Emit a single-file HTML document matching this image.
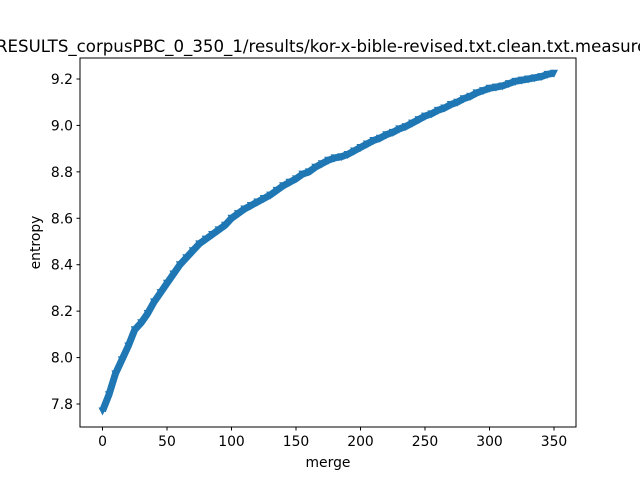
<!DOCTYPE html>
<html><head><meta charset="utf-8"><style>
html,body{margin:0;padding:0;background:#fff;}
svg{display:block;font-family:"DejaVu Sans","Liberation Sans",sans-serif;}
</style></head><body>
<svg id="chart" width="640" height="480" viewBox="0 0 640 480">
<rect width="640" height="480" fill="#fff"/>
<text x="326" y="52" font-size="16.67" text-anchor="middle" textLength="660" lengthAdjust="spacingAndGlyphs">RESULTS_corpusPBC_0_350_1/results/kor-x-bible-revised.txt.clean.txt.measures</text>
<g id="plot"></g>
<rect x="80" y="58" width="496" height="369" fill="none" stroke="#000" stroke-width="1"/>
<g id="xticks"></g><g id="yticks"></g>
<text x="328" y="467" font-size="13.9" text-anchor="middle">merge</text>
<text transform="translate(40,242.5) rotate(-90)" font-size="13.9" text-anchor="middle">entropy</text>
</svg>
<script>
const merges = [0,5,10,15,20,25,30,35,40,45,50,55,60,65,70,75,80,85,90,95,100,105,110,115,120,125,130,135,140,145,150,155,160,165,170,175,180,185,190,195,200,205,210,215,220,225,230,235,240,245,250,255,260,265,270,275,280,285,290,295,300,305,310,315,320,325,330,335,340,345,350];
const entropy = [7.77,7.84,7.93,7.99,8.05,8.12,8.15,8.19,8.24,8.28,8.32,8.36,8.40,8.43,8.46,8.49,8.51,8.53,8.55,8.57,8.60,8.62,8.64,8.655,8.67,8.685,8.70,8.72,8.74,8.755,8.77,8.79,8.80,8.82,8.835,8.85,8.86,8.865,8.875,8.89,8.905,8.92,8.935,8.945,8.96,8.97,8.985,8.995,9.01,9.025,9.04,9.05,9.065,9.075,9.09,9.10,9.115,9.125,9.14,9.15,9.16,9.165,9.17,9.18,9.19,9.195,9.20,9.205,9.21,9.22,9.225];
const xTicks = [0,50,100,150,200,250,300,350];
const yTicks = [7.8,8.0,8.2,8.4,8.6,8.8,9.0,9.2];
const NS="http://www.w3.org/2000/svg";
function xs(v){return 102.5+v*(554-102.5)/350;}
function ys(v){return 404-(v-7.8)*(404-79)/1.4;}
const plot=document.getElementById('plot');
let d='';
merges.forEach((m,i)=>{d+=(i?'L':'M')+xs(m).toFixed(2)+' '+ys(entropy[i]).toFixed(2);});
const line=document.createElementNS(NS,'path');
line.setAttribute('d',d);line.setAttribute('fill','none');line.setAttribute('stroke','#1f77b4');line.setAttribute('stroke-width','7');line.setAttribute('stroke-linejoin','round');


plot.appendChild(line);
merges.forEach((m,i)=>{
 const x=xs(m),y=ys(entropy[i]);
 const p=document.createElementNS(NS,'polygon');
 p.setAttribute('points',`${x-4},${y-3.5} ${x+4},${y-3.5} ${x},${y+4.5}`);
 p.setAttribute('fill','#1f77b4');
 
 
 plot.appendChild(p);
});
const xg=document.getElementById('xticks');
xTicks.forEach(t=>{
 const x=xs(t);
 const l=document.createElementNS(NS,'line');
 l.setAttribute('x1',x);l.setAttribute('x2',x);l.setAttribute('y1',427);l.setAttribute('y2',430.5);l.setAttribute('stroke','#000');
 
 
 xg.appendChild(l);
 const tx=document.createElementNS(NS,'text');
 tx.setAttribute('x',x);tx.setAttribute('y',446);tx.setAttribute('font-size','13.9');tx.setAttribute('text-anchor','middle');
 tx.textContent=t;
 
 
 xg.appendChild(tx);
});
const yg=document.getElementById('yticks');
yTicks.forEach(t=>{
 const y=ys(t);
 const l=document.createElementNS(NS,'line');
 l.setAttribute('x1',76.5);l.setAttribute('x2',80);l.setAttribute('y1',y);l.setAttribute('y2',y);l.setAttribute('stroke','#000');
 
 
 yg.appendChild(l);
 const tx=document.createElementNS(NS,'text');
 tx.setAttribute('x',73);tx.setAttribute('y',y+5);tx.setAttribute('font-size','13.9');tx.setAttribute('text-anchor','end');
 tx.textContent=t.toFixed(1);
 
 
 yg.appendChild(tx);
});
</script>
</body></html>
